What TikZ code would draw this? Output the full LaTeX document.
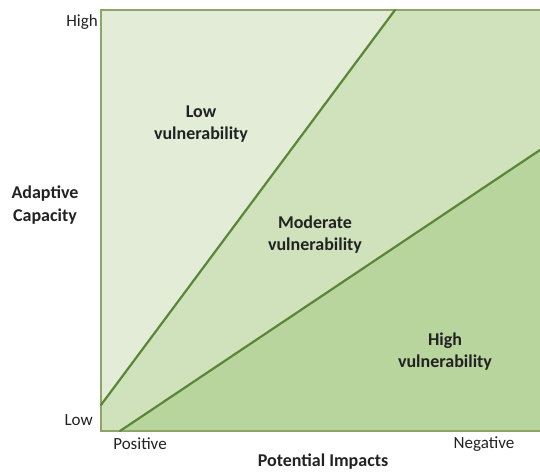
\documentclass[tikz,border=0pt]{standalone}
\usepackage{fontspec}
\setmainfont{Carlito}
\usepackage{xcolor}
\usetikzlibrary{positioning}

\definecolor{lowfill}{HTML}{E3ECD6}
\definecolor{modfill}{HTML}{D0E2BB}
\definecolor{highfill}{HTML}{B8D59E}
\definecolor{divline}{HTML}{5A8638}
\definecolor{frameline}{HTML}{8EA56A}
\definecolor{txt}{HTML}{222222}

\begin{document}
\begin{tikzpicture}[x=1pt, y=-1pt, font=\fontsize{17}{22}\selectfont,
  zone/.style={font=\fontsize{18}{22}\selectfont\bfseries, align=center, text=txt, inner sep=0pt},
  tick/.style={font=\fontsize{17}{22}\selectfont, text=txt, inner sep=0pt},
  axis/.style={font=\fontsize{18}{23}\selectfont\bfseries, align=center, text=txt, inner sep=0pt},
  divide/.style={draw=divline, line width=2.2pt, line cap=round}]
\useasboundingbox (0,0) rectangle (540,471);
% corners of the plot and ends of the two dividing lines
\coordinate (tl) at (101,10); \coordinate (tr) at (540,10);
\coordinate (bl) at (101,431); \coordinate (br) at (540,431);
\coordinate (aL) at (101,405); \coordinate (aT) at (395,10);
\coordinate (bB) at (120,431); \coordinate (bR) at (540,150);
% zones
\fill[modfill] (tl) rectangle (br);
\fill[lowfill] (tl) -- (aT) -- (aL) -- cycle;
\fill[highfill] (bB) -- (bR) -- (br) -- cycle;
\draw[frameline, line width=2pt] (tr) -- (tl) -- (bl) -- (br);
\draw[divide] (aL) -- (aT);
\draw[divide] (bB) -- (bR);
% labels
\node[zone] (low) at (201,124) {Low\\vulnerability};
\node[zone] (mod) at (315,235) {Moderate\\vulnerability};
\node[zone] (high) at (445,352) {High\\vulnerability};
\node[tick, anchor=east] (yhigh) at (98,22) {High};
\node[tick, anchor=east] (ylow) at (93,420) {Low};
\node[tick] (xpos) at (140,444) {Positive};
\node[tick] (xneg) at (484,444) {Negative};
\node[axis] (ylab) at (45,205) {Adaptive\\Capacity};
\node[axis] (xlab) at (323,462) {Potential Impacts};
\end{tikzpicture}
\end{document}
